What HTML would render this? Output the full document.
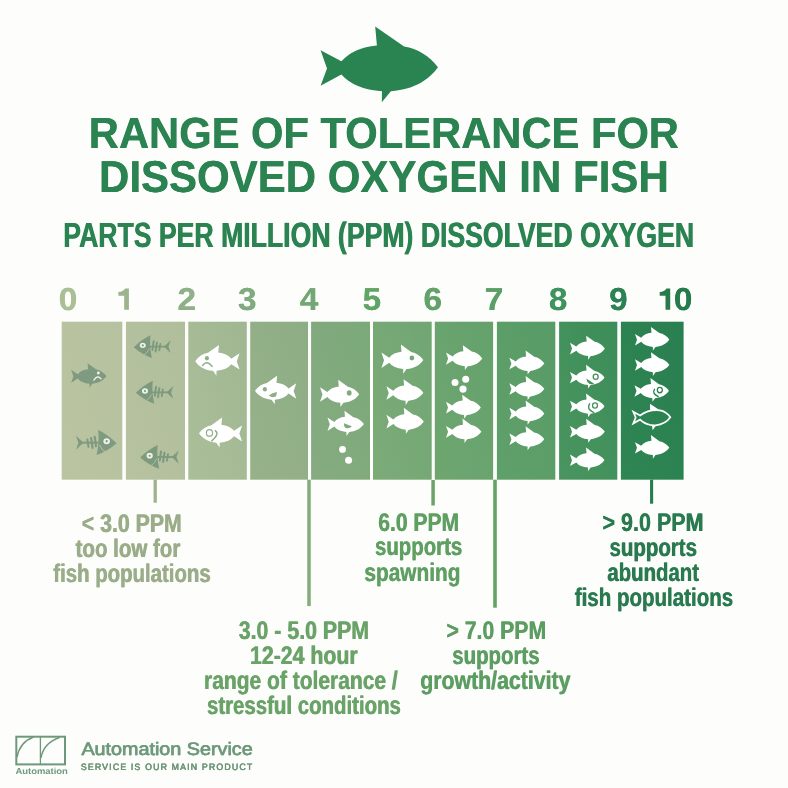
<!DOCTYPE html>
<html><head><meta charset="utf-8"><title>Range of tolerance for dissolved oxygen in fish</title>
<style>
html,body{margin:0;padding:0;background:#fdfdfc;}
body{width:788px;height:788px;position:relative;overflow:hidden;font-family:"Liberation Sans",sans-serif;}
svg{position:absolute;left:0;top:0;will-change:transform;}
.t{position:absolute;white-space:pre;line-height:1;transform-origin:0 0;font-family:"Liberation Sans",sans-serif;}
</style></head><body>
<svg width="788" height="788" viewBox="0 0 788 788">
<g transform="translate(320,26)"><path d="M0.6,24.3 L21.4,35.3 Q33.5,21.5 56.9,19.4 L55.2,0.6 L84.1,20.4 C97.5,22.5 109.5,30 118,41.2 C109,53.5 96,62.8 70.9,65.3 L61.8,76.3 L62,65.3 Q34.2,63.1 21.4,48.5 L0.6,59.8 L7,42.5 Z" fill="#2a8451"/></g>
<defs>
<linearGradient id="g0" x1="0" y1="1" x2="1" y2="0"><stop offset="0" stop-color="#bac4a1"/><stop offset="1" stop-color="#b6c19f"/></linearGradient>
<linearGradient id="g1" x1="0" y1="1" x2="1" y2="0"><stop offset="0" stop-color="#b7c2a0"/><stop offset="1" stop-color="#b0be9b"/></linearGradient>
<linearGradient id="g2" x1="0" y1="1" x2="1" y2="0"><stop offset="0" stop-color="#abbe9a"/><stop offset="1" stop-color="#9fb791"/></linearGradient>
<linearGradient id="g3" x1="0" y1="1" x2="1" y2="0"><stop offset="0" stop-color="#97b28b"/><stop offset="1" stop-color="#8dad85"/></linearGradient>
<linearGradient id="g4" x1="0" y1="1" x2="1" y2="0"><stop offset="0" stop-color="#86ab80"/><stop offset="1" stop-color="#7ba97a"/></linearGradient>
<linearGradient id="g5" x1="0" y1="1" x2="1" y2="0"><stop offset="0" stop-color="#7cab78"/><stop offset="1" stop-color="#70a672"/></linearGradient>
<linearGradient id="g6" x1="0" y1="1" x2="1" y2="0"><stop offset="0" stop-color="#6fa670"/><stop offset="1" stop-color="#64a16b"/></linearGradient>
<linearGradient id="g7" x1="0" y1="1" x2="1" y2="0"><stop offset="0" stop-color="#60a06a"/><stop offset="1" stop-color="#589b66"/></linearGradient>
<linearGradient id="g8" x1="0" y1="1" x2="1" y2="0"><stop offset="0" stop-color="#4a955f"/><stop offset="1" stop-color="#3c8d59"/></linearGradient>
<linearGradient id="g9" x1="0" y1="1" x2="1" y2="0"><stop offset="0" stop-color="#2f8654"/><stop offset="1" stop-color="#297f4f"/></linearGradient>
</defs>
<rect x="61.7" y="321.7" width="60.6" height="158.0" fill="url(#g0)"/>
<rect x="125.9" y="321.7" width="59.1" height="158.0" fill="url(#g1)"/>
<rect x="188.3" y="321.7" width="58.5" height="158.0" fill="url(#g2)"/>
<rect x="250.2" y="321.7" width="57.8" height="158.0" fill="url(#g3)"/>
<rect x="311.1" y="321.7" width="58.9" height="158.0" fill="url(#g4)"/>
<rect x="373.0" y="321.7" width="58.7" height="158.0" fill="url(#g5)"/>
<rect x="434.8" y="321.7" width="58.3" height="158.0" fill="url(#g6)"/>
<rect x="496.9" y="321.7" width="58.4" height="158.0" fill="url(#g7)"/>
<rect x="559.1" y="321.7" width="58.2" height="158.0" fill="url(#g8)"/>
<rect x="620.9" y="321.7" width="62.7" height="158.0" fill="url(#g9)"/>
<rect x="153.55" y="479.7" width="3.3" height="23.0" fill="#a0b28c"/>
<rect x="307.25" y="479.7" width="3.5" height="126.4" fill="#82ac7a"/>
<rect x="431.35" y="480.0" width="3.5" height="25.5" fill="#6ca569"/>
<rect x="493.20" y="479.7" width="3.6" height="128.0" fill="#64a264"/>
<rect x="650.05" y="479.7" width="3.1" height="24.0" fill="#267d4e"/>
<g transform="translate(71.00,362.97) scale(0.3008,0.3189)"><path d="M0.6,21.3 L22.5,35 Q34,21.5 56.9,19.4 L55.2,0.6 L84.1,20.4 C97.5,22.5 109.5,30 118,41.2 C109,53.5 96,62.8 70.9,65.3 L61.8,77.5 L61.6,65.3 Q34.2,63.1 22.5,48.8 L0.6,62.3 L8,41.8 Z" fill="#7e9a80"/><circle cx="91" cy="31.5" r="4.6" fill="#f4f6ee"/><path d="M76,54 Q88,36 100,50" fill="none" stroke="#f4f6ee" stroke-width="4" stroke-linecap="round"/></g>
<g transform="translate(76.00,429.41) scale(1.0150,1.0150)" fill="#7e9a80" stroke="none">
<path d="M0,6.2 L6.8,12.6 L6.8,13.6 L0,20 L2.4,13.1 Z"/>
<rect x="5.5" y="12.1" width="17" height="1.9"/>
<path d="M11.2,10 L12.3,17" stroke="#7e9a80" stroke-width="2" stroke-linecap="round"/>
<path d="M14.9,8.6 L16.3,18.2" stroke="#7e9a80" stroke-width="2.1" stroke-linecap="round"/>
<path d="M18.4,7.2 L19.7,16.6" stroke="#7e9a80" stroke-width="2.1" stroke-linecap="round"/>
<path d="M21.9,0.6 Q31,4.8 40,13.6 Q31,21.6 20.3,25.2 Q23.2,13 21.9,0.6 Z"/>
<ellipse cx="30.2" cy="11.6" rx="3.2" ry="2.9" fill="#eff3e6"/><circle cx="30.2" cy="11.7" r="1.15"/>
<path d="M23.4,15.5 Q24.8,19.6 28.4,21.8" fill="none" stroke="#b4c09e" stroke-width="1" stroke-linecap="round"/>
</g>
<g transform="translate(170.70,334.58) scale(-0.9250,0.9250)" fill="#7d9a7f" stroke="none">
<path d="M0,6.2 L6.8,12.6 L6.8,13.6 L0,20 L2.4,13.1 Z"/>
<rect x="5.5" y="12.1" width="17" height="1.9"/>
<path d="M11.2,10 L12.3,17" stroke="#7d9a7f" stroke-width="2" stroke-linecap="round"/>
<path d="M14.9,8.6 L16.3,18.2" stroke="#7d9a7f" stroke-width="2.1" stroke-linecap="round"/>
<path d="M18.4,7.2 L19.7,16.6" stroke="#7d9a7f" stroke-width="2.1" stroke-linecap="round"/>
<path d="M21.9,0.6 Q31,4.8 40,13.6 Q31,21.6 20.3,25.2 Q23.2,13 21.9,0.6 Z"/>
<ellipse cx="30.2" cy="11.6" rx="3.2" ry="2.9" fill="#eff3e6"/><circle cx="30.2" cy="11.7" r="1.15"/>
<path d="M23.4,15.5 Q24.8,19.6 28.4,21.8" fill="none" stroke="#b0bd9b" stroke-width="1" stroke-linecap="round"/>
</g>
<g transform="translate(173.30,380.11) scale(-0.9375,0.9375)" fill="#7d9a7f" stroke="none">
<path d="M0,6.2 L6.8,12.6 L6.8,13.6 L0,20 L2.4,13.1 Z"/>
<rect x="5.5" y="12.1" width="17" height="1.9"/>
<path d="M11.2,10 L12.3,17" stroke="#7d9a7f" stroke-width="2" stroke-linecap="round"/>
<path d="M14.9,8.6 L16.3,18.2" stroke="#7d9a7f" stroke-width="2.1" stroke-linecap="round"/>
<path d="M18.4,7.2 L19.7,16.6" stroke="#7d9a7f" stroke-width="2.1" stroke-linecap="round"/>
<path d="M21.9,0.6 Q31,4.8 40,13.6 Q31,21.6 20.3,25.2 Q23.2,13 21.9,0.6 Z"/>
<ellipse cx="30.2" cy="11.6" rx="3.2" ry="2.9" fill="#eff3e6"/><circle cx="30.2" cy="11.7" r="1.15"/>
<path d="M23.4,15.5 Q24.8,19.6 28.4,21.8" fill="none" stroke="#b0bd9b" stroke-width="1" stroke-linecap="round"/>
</g>
<g transform="translate(178.80,444.45) scale(-0.9650,0.9650)" fill="#7d9a7f" stroke="none">
<path d="M0,6.2 L6.8,12.6 L6.8,13.6 L0,20 L2.4,13.1 Z"/>
<rect x="5.5" y="12.1" width="17" height="1.9"/>
<path d="M11.2,10 L12.3,17" stroke="#7d9a7f" stroke-width="2" stroke-linecap="round"/>
<path d="M14.9,8.6 L16.3,18.2" stroke="#7d9a7f" stroke-width="2.1" stroke-linecap="round"/>
<path d="M18.4,7.2 L19.7,16.6" stroke="#7d9a7f" stroke-width="2.1" stroke-linecap="round"/>
<path d="M21.9,0.6 Q31,4.8 40,13.6 Q31,21.6 20.3,25.2 Q23.2,13 21.9,0.6 Z"/>
<ellipse cx="30.2" cy="11.6" rx="3.2" ry="2.9" fill="#eff3e6"/><circle cx="30.2" cy="11.7" r="1.15"/>
<path d="M23.4,15.5 Q24.8,19.6 28.4,21.8" fill="none" stroke="#b0bd9b" stroke-width="1" stroke-linecap="round"/>
</g>
<g transform="translate(239.80,344.65) scale(-0.3780,0.4006)"><path d="M0.6,21.3 L22.5,35 Q34,21.5 56.9,19.4 L55.2,0.6 L84.1,20.4 C97.5,22.5 109.5,30 118,41.2 C109,53.5 96,62.8 70.9,65.3 L61.8,77.5 L61.6,65.3 Q34.2,63.1 22.5,48.8 L0.6,62.3 L8,41.8 Z" fill="#fff"/><circle cx="87" cy="34" r="5.4" fill="#8fae86"/><path d="M98.4,52.1 Q87,37.7 73.3,54.1" fill="none" stroke="#8fae86" stroke-width="3.8" stroke-linecap="round"/></g>
<g transform="translate(242.30,417.24) scale(-0.3669,0.3890)"><path d="M0.6,21.3 L22.5,35 Q34,21.5 56.9,19.4 L55.2,0.6 L84.1,20.4 C97.5,22.5 109.5,30 118,41.2 C109,53.5 96,62.8 70.9,65.3 L61.8,77.5 L61.6,65.3 Q34.2,63.1 22.5,48.8 L0.6,62.3 L8,41.8 Z" fill="#fff"/><circle cx="89.4" cy="40.3" r="8.4" fill="none" stroke="#8fae86" stroke-width="3.1"/><path d="M73.8,34.6 Q60.8,42.9 83.1,60.8" fill="none" stroke="#8fae86" stroke-width="3.8" stroke-linecap="round"/></g>
<g transform="translate(296.50,375.42) scale(-0.3517,0.3728)"><path d="M0.6,21.3 L22.5,35 Q34,21.5 56.9,19.4 L55.2,0.6 L84.1,20.4 C97.5,22.5 109.5,30 118,41.2 C109,53.5 96,62.8 70.9,65.3 L61.8,77.5 L61.6,65.3 Q34.2,63.1 22.5,48.8 L0.6,62.3 L8,41.8 Z" fill="#fff"/><circle cx="89.9" cy="37" r="6" fill="#8fae86"/><path d="M79.1,53.9 Q69,47 56,44.7 Q55.5,51 58.5,56 Q68,61.5 79.1,53.9 Z" fill="#8fae86"/></g>
<g transform="translate(319.80,379.61) scale(0.3339,0.3539)"><path d="M0.6,21.3 L22.5,35 Q34,21.5 56.9,19.4 L55.2,0.6 L84.1,20.4 C97.5,22.5 109.5,30 118,41.2 C109,53.5 96,62.8 70.9,65.3 L61.8,77.5 L61.6,65.3 Q34.2,63.1 22.5,48.8 L0.6,62.3 L8,41.8 Z" fill="#fff"/><circle cx="88" cy="37.5" r="7.2" fill="#80aa7d"/></g>
<g transform="translate(327.30,410.46) scale(0.3102,0.3288)"><path d="M0.6,21.3 L22.5,35 Q34,21.5 56.9,19.4 L55.2,0.6 L84.1,20.4 C97.5,22.5 109.5,30 118,41.2 C109,53.5 96,62.8 70.9,65.3 L61.8,77.5 L61.6,65.3 Q34.2,63.1 22.5,48.8 L0.6,62.3 L8,41.8 Z" fill="#fff"/><path d="M53.7,39 L79,48.2 Q71,57.5 57.7,52.7 Q53,47 53.7,39 Z" fill="#80aa7d"/></g>
<circle cx="342.5" cy="449.4" r="3.4" fill="#fff"/><circle cx="348.6" cy="460.2" r="3.5" fill="#fff"/>
<g transform="translate(381.20,344.39) scale(0.3568,0.3782)"><path d="M0.6,21.3 L22.5,35 Q34,21.5 56.9,19.4 L55.2,0.6 L84.1,20.4 C97.5,22.5 109.5,30 118,41.2 C109,53.5 96,62.8 70.9,65.3 L61.8,77.5 L61.6,65.3 Q34.2,63.1 22.5,48.8 L0.6,62.3 L8,41.8 Z" fill="#fff"/><circle cx="86" cy="36" r="6.5" fill="#73a774"/></g>
<g transform="translate(386.20,379.07) scale(0.3144,0.3333)"><path d="M0.6,21.3 L22.5,35 Q34,21.5 56.9,19.4 L55.2,0.6 L84.1,20.4 C97.5,22.5 109.5,30 118,41.2 C109,53.5 96,62.8 70.9,65.3 L61.8,77.5 L61.6,65.3 Q34.2,63.1 22.5,48.8 L0.6,62.3 L8,41.8 Z" fill="#fff"/></g>
<g transform="translate(386.20,407.58) scale(0.3186,0.3378)"><path d="M0.6,21.3 L22.5,35 Q34,21.5 56.9,19.4 L55.2,0.6 L84.1,20.4 C97.5,22.5 109.5,30 118,41.2 C109,53.5 96,62.8 70.9,65.3 L61.8,77.5 L61.6,65.3 Q34.2,63.1 22.5,48.8 L0.6,62.3 L8,41.8 Z" fill="#fff"/></g>
<g transform="translate(445.80,344.93) scale(0.3085,0.3270)"><path d="M0.6,23.5 L22,35.2 Q34,21.5 56.9,19.4 L55.2,0.6 L84.1,20.4 C97.5,22.5 109.5,30 118,41.2 C109,53.5 96,62.8 70.9,65.3 L61.8,77 L61.8,65.3 Q34.2,63.1 22,48.6 L0.6,60.3 L7.5,41.8 Z" fill="#fff"/></g>
<circle cx="455" cy="382.4" r="3.5" fill="#fff"/><circle cx="465.7" cy="379.3" r="3.5" fill="#fff"/><circle cx="463" cy="389.1" r="3.6" fill="#fff"/>
<g transform="translate(445.80,394.46) scale(0.2966,0.3144)"><path d="M0.6,23.5 L22,35.2 Q34,21.5 56.9,19.4 L55.2,0.6 L84.1,20.4 C97.5,22.5 109.5,30 118,41.2 C109,53.5 96,62.8 70.9,65.3 L61.8,77 L61.8,65.3 Q34.2,63.1 22,48.6 L0.6,60.3 L7.5,41.8 Z" fill="#fff"/></g>
<g transform="translate(445.80,418.43) scale(0.3017,0.3198)"><path d="M0.6,23.5 L22,35.2 Q34,21.5 56.9,19.4 L55.2,0.6 L84.1,20.4 C97.5,22.5 109.5,30 118,41.2 C109,53.5 96,62.8 70.9,65.3 L61.8,77 L61.8,65.3 Q34.2,63.1 22,48.6 L0.6,60.3 L7.5,41.8 Z" fill="#fff"/></g>
<g transform="translate(509.20,350.32) scale(0.2975,0.3153)"><path d="M0.6,23.5 L22,35.2 Q34,21.5 56.9,19.4 L55.2,0.6 L84.1,20.4 C97.5,22.5 109.5,30 118,41.2 C109,53.5 96,62.8 70.9,65.3 L61.8,77 L61.8,65.3 Q34.2,63.1 22,48.6 L0.6,60.3 L7.5,41.8 Z" fill="#fff"/></g>
<g transform="translate(509.20,375.82) scale(0.2975,0.3153)"><path d="M0.6,23.5 L22,35.2 Q34,21.5 56.9,19.4 L55.2,0.6 L84.1,20.4 C97.5,22.5 109.5,30 118,41.2 C109,53.5 96,62.8 70.9,65.3 L61.8,77 L61.8,65.3 Q34.2,63.1 22,48.6 L0.6,60.3 L7.5,41.8 Z" fill="#fff"/></g>
<g transform="translate(509.20,400.42) scale(0.2975,0.3153)"><path d="M0.6,23.5 L22,35.2 Q34,21.5 56.9,19.4 L55.2,0.6 L84.1,20.4 C97.5,22.5 109.5,30 118,41.2 C109,53.5 96,62.8 70.9,65.3 L61.8,77 L61.8,65.3 Q34.2,63.1 22,48.6 L0.6,60.3 L7.5,41.8 Z" fill="#fff"/></g>
<g transform="translate(509.20,426.02) scale(0.2975,0.3153)"><path d="M0.6,23.5 L22,35.2 Q34,21.5 56.9,19.4 L55.2,0.6 L84.1,20.4 C97.5,22.5 109.5,30 118,41.2 C109,53.5 96,62.8 70.9,65.3 L61.8,77 L61.8,65.3 Q34.2,63.1 22,48.6 L0.6,60.3 L7.5,41.8 Z" fill="#fff"/></g>
<g transform="translate(569.80,335.46) scale(0.2966,0.3144)"><path d="M0.6,23.5 L22,35.2 Q34,21.5 56.9,19.4 L55.2,0.6 L84.1,20.4 C97.5,22.5 109.5,30 118,41.2 C109,53.5 96,62.8 70.9,65.3 L61.8,77 L61.8,65.3 Q34.2,63.1 22,48.6 L0.6,60.3 L7.5,41.8 Z" fill="#fff"/></g>
<g transform="translate(569.80,364.57) scale(0.2941,0.3117)"><path d="M0.6,23.5 L22,35.2 Q34,21.5 56.9,19.4 L55.2,0.6 L84.1,20.4 C97.5,22.5 109.5,30 118,41.2 C109,53.5 96,62.8 70.9,65.3 L61.8,77 L61.8,65.3 Q34.2,63.1 22,48.6 L0.6,60.3 L7.5,41.8 Z" fill="#fff"/><circle cx="88" cy="39" r="8.4" fill="none" stroke="#43915c" stroke-width="4.4"/><path d="M56,44.5 L83,61.5 Q68,67 59.5,55 Z" fill="#43915c"/></g>
<g transform="translate(569.80,393.37) scale(0.2941,0.3117)"><path d="M0.6,23.5 L22,35.2 Q34,21.5 56.9,19.4 L55.2,0.6 L84.1,20.4 C97.5,22.5 109.5,30 118,41.2 C109,53.5 96,62.8 70.9,65.3 L61.8,77 L61.8,65.3 Q34.2,63.1 22,48.6 L0.6,60.3 L7.5,41.8 Z" fill="#fff"/><circle cx="85.7" cy="39" r="8.4" fill="none" stroke="#43915c" stroke-width="4.4"/><path d="M67.5,33.5 Q55,50.5 81.5,61.6" fill="none" stroke="#43915c" stroke-width="4.8" stroke-linecap="round"/></g>
<g transform="translate(569.80,418.66) scale(0.2966,0.3144)"><path d="M0.6,23.5 L22,35.2 Q34,21.5 56.9,19.4 L55.2,0.6 L84.1,20.4 C97.5,22.5 109.5,30 118,41.2 C109,53.5 96,62.8 70.9,65.3 L61.8,77 L61.8,65.3 Q34.2,63.1 22,48.6 L0.6,60.3 L7.5,41.8 Z" fill="#fff"/></g>
<g transform="translate(569.80,447.27) scale(0.2941,0.3117)"><path d="M0.6,23.5 L22,35.2 Q34,21.5 56.9,19.4 L55.2,0.6 L84.1,20.4 C97.5,22.5 109.5,30 118,41.2 C109,53.5 96,62.8 70.9,65.3 L61.8,77 L61.8,65.3 Q34.2,63.1 22,48.6 L0.6,60.3 L7.5,41.8 Z" fill="#fff"/></g>
<g transform="translate(634.80,326.75) scale(0.2924,0.3099)"><path d="M0.6,23.5 L22,35.2 Q34,21.5 56.9,19.4 L55.2,0.6 L84.1,20.4 C97.5,22.5 109.5,30 118,41.2 C109,53.5 96,62.8 70.9,65.3 L61.8,77 L61.8,65.3 Q34.2,63.1 22,48.6 L0.6,60.3 L7.5,41.8 Z" fill="#fff"/></g>
<g transform="translate(634.80,352.05) scale(0.2924,0.3099)"><path d="M0.6,23.5 L22,35.2 Q34,21.5 56.9,19.4 L55.2,0.6 L84.1,20.4 C97.5,22.5 109.5,30 118,41.2 C109,53.5 96,62.8 70.9,65.3 L61.8,77 L61.8,65.3 Q34.2,63.1 22,48.6 L0.6,60.3 L7.5,41.8 Z" fill="#fff"/></g>
<g transform="translate(634.30,377.91) scale(0.2932,0.3108)"><path d="M0.6,23.5 L22,35.2 Q34,21.5 56.9,19.4 L55.2,0.6 L84.1,20.4 C97.5,22.5 109.5,30 118,41.2 C109,53.5 96,62.8 70.9,65.3 L61.8,77 L61.8,65.3 Q34.2,63.1 22,48.6 L0.6,60.3 L7.5,41.8 Z" fill="#fff"/><circle cx="87.1" cy="39.2" r="8.6" fill="none" stroke="#2c8351" stroke-width="4.4"/><path d="M68.8,37 Q58.8,49.9 81.7,60.1" fill="none" stroke="#2c8351" stroke-width="4.8" stroke-linecap="round"/></g>
<g transform="translate(632.60,403.16) scale(0.3237,0.3432)"><path d="M2,25 L23,36 Q50,17.5 84.1,21 C97.5,23 109,30.5 116.5,41.2 C108,53 96,62 70.9,64.6 Q42,65.5 23,48 L2,59 L9.5,41.8 Z" fill="none" stroke="#fff" stroke-width="5.25" stroke-linejoin="miter"/><path d="M54,21 L53.5,2 L84,21 Z M60,65 L61.8,79 L73,64.5 Z" fill="#fff"/></g>
<g transform="translate(634.80,434.85) scale(0.2924,0.3099)"><path d="M0.6,23.5 L22,35.2 Q34,21.5 56.9,19.4 L55.2,0.6 L84.1,20.4 C97.5,22.5 109.5,30 118,41.2 C109,53.5 96,62.8 70.9,65.3 L61.8,77 L61.8,65.3 Q34.2,63.1 22,48.6 L0.6,60.3 L7.5,41.8 Z" fill="#fff"/></g>
<g fill="none" stroke="#6d987a">
<rect x="16.3" y="736.7" width="48.7" height="27.7" stroke-width="2"/>
<line x1="40.4" y1="736.7" x2="40.4" y2="764.4" stroke-width="1.3"/>
<path d="M17,757 Q20,742 33.5,737" stroke-width="1.4"/>
<path d="M41,758 Q43.5,743 59.5,737.5" stroke-width="1.4"/>
</g>
<g font-family="Liberation Sans, sans-serif" font-size="100" text-rendering="geometricPrecision">
<text transform="translate(88.60,148.30) scale(0.4171,0.4360)" fill="#2a8350" font-weight="bold">RANGE OF TOLERANCE FOR</text>
<text aria-hidden="true" transform="translate(89.10,148.30) scale(0.4171,0.4360)" fill="#2a8350" font-weight="bold">RANGE OF TOLERANCE FOR</text>
<text transform="translate(98.78,192.00) scale(0.4202,0.4462)" fill="#2a8350" font-weight="bold">DISSOVED OXYGEN IN FISH</text>
<text aria-hidden="true" transform="translate(99.28,192.00) scale(0.4202,0.4462)" fill="#2a8350" font-weight="bold">DISSOVED OXYGEN IN FISH</text>
<text transform="translate(62.90,247.20) scale(0.2663,0.3503)" fill="#2a8350" font-weight="bold">PARTS PER MILLION (PPM) DISSOLVED OXYGEN</text>
<text aria-hidden="true" transform="translate(63.60,247.20) scale(0.2663,0.3503)" fill="#2a8350" font-weight="bold">PARTS PER MILLION (PPM) DISSOLVED OXYGEN</text>
<text transform="translate(81.45,532.00) scale(0.2130,0.2544)" fill="#9aad88" font-weight="bold">&lt; 3.0 PPM</text>
<text aria-hidden="true" transform="translate(82.05,532.00) scale(0.2130,0.2544)" fill="#9aad88" font-weight="bold">&lt; 3.0 PPM</text>
<text transform="translate(75.30,557.00) scale(0.2049,0.2544)" fill="#9aad88" font-weight="bold">too low for</text>
<text aria-hidden="true" transform="translate(75.90,557.00) scale(0.2049,0.2544)" fill="#9aad88" font-weight="bold">too low for</text>
<text transform="translate(53.00,582.00) scale(0.2038,0.2544)" fill="#9aad88" font-weight="bold">fish populations</text>
<text aria-hidden="true" transform="translate(53.60,582.00) scale(0.2038,0.2544)" fill="#9aad88" font-weight="bold">fish populations</text>
<text transform="translate(238.47,639.00) scale(0.2131,0.2544)" fill="#6aa368" font-weight="bold">3.0 - 5.0 PPM</text>
<text aria-hidden="true" transform="translate(239.07,639.00) scale(0.2131,0.2544)" fill="#6aa368" font-weight="bold">3.0 - 5.0 PPM</text>
<text transform="translate(249.72,664.00) scale(0.2128,0.2544)" fill="#6aa368" font-weight="bold">12-24 hour</text>
<text aria-hidden="true" transform="translate(250.32,664.00) scale(0.2128,0.2544)" fill="#6aa368" font-weight="bold">12-24 hour</text>
<text transform="translate(203.74,689.00) scale(0.2100,0.2544)" fill="#6aa368" font-weight="bold">range of tolerance /</text>
<text aria-hidden="true" transform="translate(204.34,689.00) scale(0.2100,0.2544)" fill="#6aa368" font-weight="bold">range of tolerance /</text>
<text transform="translate(206.68,714.00) scale(0.2041,0.2544)" fill="#6aa368" font-weight="bold">stressful conditions</text>
<text aria-hidden="true" transform="translate(207.28,714.00) scale(0.2041,0.2544)" fill="#6aa368" font-weight="bold">stressful conditions</text>
<text transform="translate(377.97,531.00) scale(0.2107,0.2544)" fill="#5fa062" font-weight="bold">6.0 PPM</text>
<text aria-hidden="true" transform="translate(378.57,531.00) scale(0.2107,0.2544)" fill="#5fa062" font-weight="bold">6.0 PPM</text>
<text transform="translate(374.68,555.00) scale(0.2040,0.2544)" fill="#5fa062" font-weight="bold">supports</text>
<text aria-hidden="true" transform="translate(375.28,555.00) scale(0.2040,0.2544)" fill="#5fa062" font-weight="bold">supports</text>
<text transform="translate(364.07,581.00) scale(0.2084,0.2544)" fill="#5fa062" font-weight="bold">spawning</text>
<text aria-hidden="true" transform="translate(364.67,581.00) scale(0.2084,0.2544)" fill="#5fa062" font-weight="bold">spawning</text>
<text transform="translate(446.15,639.00) scale(0.2122,0.2544)" fill="#5c9e62" font-weight="bold">&gt; 7.0 PPM</text>
<text aria-hidden="true" transform="translate(446.75,639.00) scale(0.2122,0.2544)" fill="#5c9e62" font-weight="bold">&gt; 7.0 PPM</text>
<text transform="translate(451.98,664.00) scale(0.2040,0.2544)" fill="#5c9e62" font-weight="bold">supports</text>
<text aria-hidden="true" transform="translate(452.58,664.00) scale(0.2040,0.2544)" fill="#5c9e62" font-weight="bold">supports</text>
<text transform="translate(419.95,689.00) scale(0.2128,0.2544)" fill="#5c9e62" font-weight="bold">growth/activity</text>
<text aria-hidden="true" transform="translate(420.55,689.00) scale(0.2128,0.2544)" fill="#5c9e62" font-weight="bold">growth/activity</text>
<text transform="translate(602.24,531.00) scale(0.2150,0.2544)" fill="#2a7a4f" font-weight="bold">&gt; 9.0 PPM</text>
<text aria-hidden="true" transform="translate(602.84,531.00) scale(0.2150,0.2544)" fill="#2a7a4f" font-weight="bold">&gt; 9.0 PPM</text>
<text transform="translate(609.18,556.00) scale(0.2045,0.2544)" fill="#2a7a4f" font-weight="bold">supports</text>
<text aria-hidden="true" transform="translate(609.78,556.00) scale(0.2045,0.2544)" fill="#2a7a4f" font-weight="bold">supports</text>
<text transform="translate(607.09,581.00) scale(0.2036,0.2544)" fill="#2a7a4f" font-weight="bold">abundant</text>
<text aria-hidden="true" transform="translate(607.69,581.00) scale(0.2036,0.2544)" fill="#2a7a4f" font-weight="bold">abundant</text>
<text transform="translate(574.49,606.00) scale(0.2051,0.2544)" fill="#2a7a4f" font-weight="bold">fish populations</text>
<text aria-hidden="true" transform="translate(575.09,606.00) scale(0.2051,0.2544)" fill="#2a7a4f" font-weight="bold">fish populations</text>
<text transform="translate(81.17,754.80) scale(0.1975,0.1802)" fill="#6f9a7b" font-weight="normal" stroke="#6f9a7b" stroke-width="1.86" stroke-linejoin="round">Automation Service</text>
<text aria-hidden="true" transform="translate(81.67,754.80) scale(0.1975,0.1802)" fill="#6f9a7b" font-weight="normal" stroke="#6f9a7b" stroke-width="1.86" stroke-linejoin="round">Automation Service</text>
<text transform="translate(80.66,769.50) scale(0.0880,0.0930)" fill="#6a9474" font-weight="normal" letter-spacing="13" stroke="#6a9474" stroke-width="2.21" stroke-linejoin="round">SERVICE IS OUR MAIN PRODUCT</text>
<text aria-hidden="true" transform="translate(80.96,769.50) scale(0.0880,0.0930)" fill="#6a9474" font-weight="normal" letter-spacing="13" stroke="#6a9474" stroke-width="2.21" stroke-linejoin="round">SERVICE IS OUR MAIN PRODUCT</text>
<text transform="translate(15.42,774.20) scale(0.0943,0.0872)" fill="#6f9a7b" font-weight="bold">Automation</text>
<text transform="translate(58.48,310.30) scale(0.3330,0.3169)" fill="#aabf96" font-weight="bold">0</text>
<text aria-hidden="true" transform="translate(58.88,310.30) scale(0.3330,0.3169)" fill="#aabf96" font-weight="bold">0</text>
<path fill="#9bb48d" d="M128.9,309.8 L124.2,309.8 L124.2,295.8 L118.4,295.8 L118.4,292.1 Q123.1,291.8 125.1,288.4 L128.9,288.4 Z"/>
<text transform="translate(177.24,310.30) scale(0.3330,0.3169)" fill="#8fb088" font-weight="bold">2</text>
<text aria-hidden="true" transform="translate(177.64,310.30) scale(0.3330,0.3169)" fill="#8fb088" font-weight="bold">2</text>
<text transform="translate(237.81,310.30) scale(0.3330,0.3169)" fill="#7fab7f" font-weight="bold">3</text>
<text aria-hidden="true" transform="translate(238.21,310.30) scale(0.3330,0.3169)" fill="#7fab7f" font-weight="bold">3</text>
<text transform="translate(299.71,310.30) scale(0.3330,0.3169)" fill="#74a776" font-weight="bold">4</text>
<text aria-hidden="true" transform="translate(300.11,310.30) scale(0.3330,0.3169)" fill="#74a776" font-weight="bold">4</text>
<text transform="translate(362.38,310.30) scale(0.3330,0.3169)" fill="#60a566" font-weight="bold">5</text>
<text aria-hidden="true" transform="translate(362.78,310.30) scale(0.3330,0.3169)" fill="#60a566" font-weight="bold">5</text>
<text transform="translate(423.34,310.30) scale(0.3330,0.3169)" fill="#63a268" font-weight="bold">6</text>
<text aria-hidden="true" transform="translate(423.74,310.30) scale(0.3330,0.3169)" fill="#63a268" font-weight="bold">6</text>
<text transform="translate(484.48,310.30) scale(0.3330,0.3169)" fill="#5c9f66" font-weight="bold">7</text>
<text aria-hidden="true" transform="translate(484.88,310.30) scale(0.3330,0.3169)" fill="#5c9f66" font-weight="bold">7</text>
<text transform="translate(548.68,310.30) scale(0.3330,0.3169)" fill="#3e935f" font-weight="bold">8</text>
<text aria-hidden="true" transform="translate(549.08,310.30) scale(0.3330,0.3169)" fill="#3e935f" font-weight="bold">8</text>
<text transform="translate(608.94,310.30) scale(0.3330,0.3169)" fill="#2c8252" font-weight="bold">9</text>
<text aria-hidden="true" transform="translate(609.34,310.30) scale(0.3330,0.3169)" fill="#2c8252" font-weight="bold">9</text>
<path fill="#267b4b" d="M670.2,309.8 L665.5,309.8 L665.5,295.8 L659.7,295.8 L659.7,292.1 Q664.4,291.8 666.4,288.4 L670.2,288.4 Z"/>
<text transform="translate(673.68,310.30) scale(0.3330,0.3169)" fill="#267b4b" font-weight="bold">0</text>
<text aria-hidden="true" transform="translate(674.08,310.30) scale(0.3330,0.3169)" fill="#267b4b" font-weight="bold">0</text>
</g>
</svg>
</body></html>
